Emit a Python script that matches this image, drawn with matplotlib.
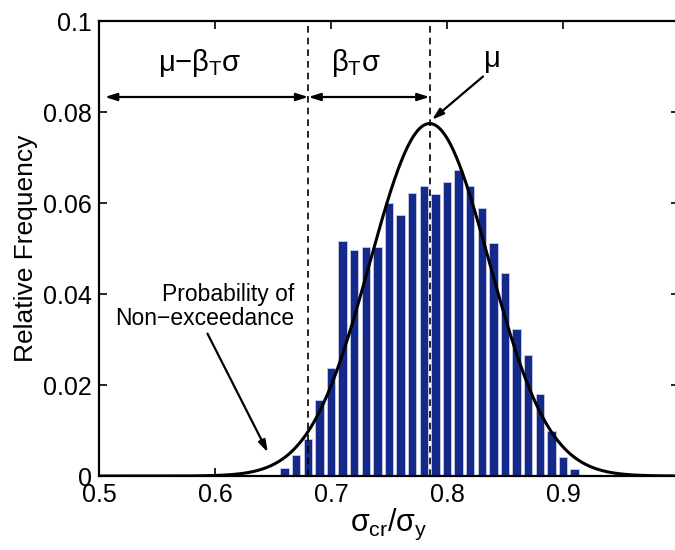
import numpy as np
import matplotlib
matplotlib.use("Agg")
import matplotlib.pyplot as plt

plt.rcParams['font.family'] = ['Liberation Sans', 'DejaVu Sans']
plt.rcParams['mathtext.fontset'] = 'custom'
plt.rcParams['mathtext.rm'] = 'Liberation Sans'
plt.rcParams['mathtext.it'] = 'Liberation Sans'
plt.rcParams['mathtext.sf'] = 'Liberation Sans'

# Histogram data
bin_centers = [0.66, 0.67, 0.68, 0.69, 0.70, 0.71, 0.72, 0.73, 0.74, 0.75,
               0.76, 0.77, 0.78, 0.79, 0.80, 0.81, 0.82, 0.83, 0.84, 0.85,
               0.86, 0.87, 0.88, 0.89, 0.90, 0.91]
rel_freq = [0.0017, 0.0046, 0.0081, 0.0166, 0.0237, 0.0517, 0.0497, 0.0504, 0.0504, 0.0599,
            0.0573, 0.0621, 0.0638, 0.0619, 0.0646, 0.0673, 0.0637, 0.0588, 0.0513, 0.0447,
            0.0323, 0.0267, 0.0180, 0.0099, 0.0042, 0.0015]

# Fitted normal parameters
mu = 0.785
sigma = 0.0515
beta_T = 2.03
bin_width = 0.01

fig = plt.figure(figsize=(6.75, 5.5), dpi=100)
ax = fig.add_axes([0.1467, 0.1345, 1.006 - 0.1467, 0.9618 - 0.1345])

ax.bar(bin_centers, rel_freq, width=0.0072, color='#15298b', edgecolor='#c8cce6',
       linewidth=0.6, zorder=2)

xs = np.linspace(0.5, 1.0, 600)
pdf = bin_width / (sigma * np.sqrt(2 * np.pi)) * np.exp(-0.5 * ((xs - mu) / sigma) ** 2)
ax.plot(xs, pdf, color='black', lw=2.2, zorder=3)

xl = mu - beta_T * sigma
ax.plot([xl, xl], [0, 0.1], color='black', lw=1.2, ls=(0, (4, 3)), zorder=4)
ax.plot([mu, mu], [0, 0.1], color='black', lw=1.2, ls=(0, (4, 3)), zorder=4)

ay = 0.0833
ap = dict(arrowstyle='<|-|>,head_length=0.7,head_width=0.22', color='black', lw=1.6,
          shrinkA=0, shrinkB=0)
ax.annotate('', xy=(0.505, ay), xytext=(xl, ay), arrowprops=ap)
ax.annotate('', xy=(xl, ay), xytext=(mu, ay), arrowprops=ap)

ax.text(0.587, 0.0908, r'$\mu$−$\beta_{\mathrm{T}}\sigma$', fontsize=21, ha='center', va='center')
ax.text(0.7215, 0.0908, r'$\beta_{\mathrm{T}}\sigma$', fontsize=21, ha='center', va='center')
ax.text(0.838, 0.0912, r'$\mu$', fontsize=21, ha='center', va='center')

ap2 = dict(arrowstyle='-|>,head_length=0.7,head_width=0.22', color='black', lw=1.6,
           shrinkA=0, shrinkB=0)
ax.annotate('', xy=(0.787, 0.0783), xytext=(0.831, 0.0878), arrowprops=ap2)

ax.text(0.668, 0.0372, 'Probability of\nNon−exceedance', fontsize=16.5, ha='right',
        va='center', linespacing=1.05)
ax.annotate('', xy=(0.6455, 0.0052), xytext=(0.5935, 0.0313), arrowprops=ap2)

ax.set_xlim(0.5, 1.0)
ax.set_ylim(0, 0.1)
ax.set_xticks([0.5, 0.6, 0.7, 0.8, 0.9])
ax.set_xticklabels(['0.5', '0.6', '0.7', '0.8', '0.9'])
ax.set_yticks([0, 0.02, 0.04, 0.06, 0.08, 0.1])
ax.set_yticklabels(['0', '0.02', '0.04', '0.06', '0.08', '0.1'])
ax.tick_params(direction='in', length=6, width=1.2, labelsize=18, top=True, right=True, pad=5)
for s in ax.spines.values():
    s.set_linewidth(1.6)

ax.set_ylabel('Relative Frequency', fontsize=19, labelpad=4)
ax.set_xlabel(r'$\sigma_{\mathrm{cr}}/\sigma_{\mathrm{y}}$', fontsize=22, labelpad=0)

fig.savefig('out.png', dpi=100)
